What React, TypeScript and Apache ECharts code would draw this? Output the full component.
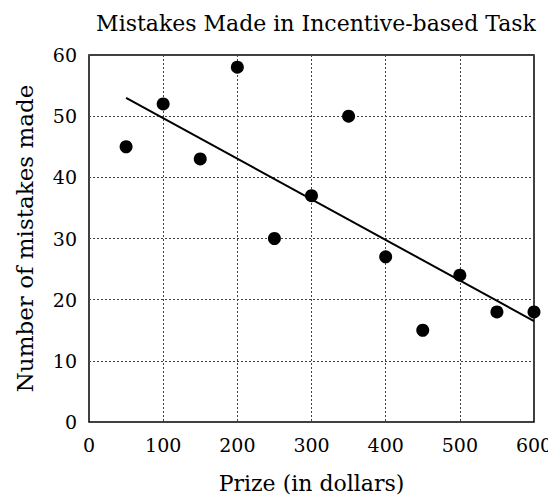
import React, { useEffect, useRef } from "react";
import * as echarts from "echarts";

const prizes = [50, 100, 150, 200, 250, 300, 350, 400, 450, 500, 550, 600];
const mistakes = [45, 52, 43, 58, 30, 37, 50, 27, 15, 24, 18, 18];
const trendX = [50, 600];
const trendY = [53, 16.5];

const FONT = "'DejaVu Serif', 'Liberation Serif', serif";

export default function App() {
  const ref = useRef<HTMLDivElement>(null);
  useEffect(() => {
    if (!ref.current) return;
    const chart = echarts.init(ref.current, undefined, { renderer: "svg" });
    chart.setOption({
      animation: false,
      backgroundColor: "#ffffff",
      title: {
        text: "Mistakes Made in Incentive-based Task",
        left: 311,
        top: 7,
        textAlign: "center",
        textStyle: { fontFamily: FONT, fontSize: 22, fontWeight: "normal", color: "#000" },
      },
      grid: { left: 89, right: 22, top: 55, bottom: 81, show: true, borderColor: "#000", borderWidth: 1.5, backgroundColor: "transparent" },
      xAxis: {
        type: "value",
        min: 0,
        max: 600,
        interval: 100,
        name: "Prize (in dollars)",
        nameLocation: "middle",
        nameGap: 50,
        nameTextStyle: { fontFamily: FONT, fontSize: 22, color: "#000" },
        axisLine: { show: false },
        axisTick: { show: false },
        axisLabel: { fontFamily: FONT, fontSize: 19, color: "#000", margin: 13 },
        splitLine: { show: true, lineStyle: { color: "#444", type: [2, 2], width: 1 } },
      },
      yAxis: {
        type: "value",
        min: 0,
        max: 60,
        interval: 10,
        name: "Number of mistakes made",
        nameLocation: "middle",
        nameGap: 53,
        nameTextStyle: { fontFamily: FONT, fontSize: 23, color: "#000" },
        axisLine: { show: false },
        axisTick: { show: false },
        axisLabel: { fontFamily: FONT, fontSize: 19, color: "#000", margin: 12 },
        splitLine: { show: true, lineStyle: { color: "#444", type: [2, 2], width: 1 } },
      },
      series: [
        {
          type: "line",
          data: trendX.map((x, i) => [x, trendY[i]]),
          symbol: "none",
          lineStyle: { color: "#000", width: 2 },
          z: 3,
        },
        {
          type: "scatter",
          data: prizes.map((x, i) => [x, mistakes[i]]),
          symbol: "circle",
          symbolSize: 13,
          itemStyle: { color: "#000", opacity: 1 },
          z: 4,
        },
      ],
    });
    return () => chart.dispose();
  }, []);
  return <div ref={ref} style={{ width: 556, height: 503, margin: -8 }} />;
}
